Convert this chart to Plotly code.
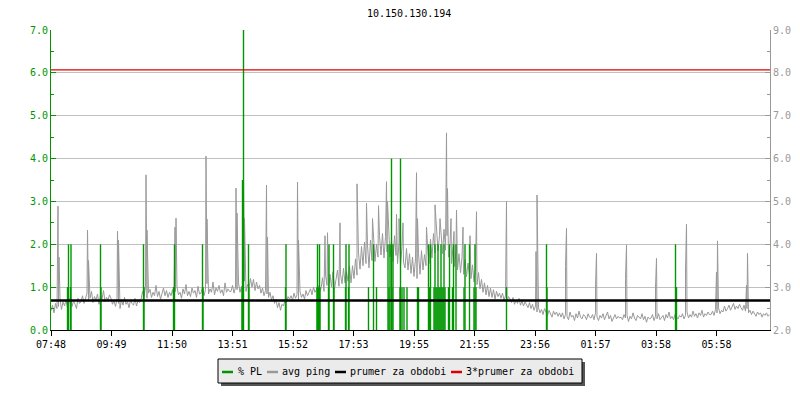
import pandas as pd
import plotly.graph_objects as go

# --- data -----------------------------------------------------------------
start = pd.Timestamp("2024-05-14 07:48")
span_min = 1438

# avg ping [ms], one reading every 3 minutes
ping_step = 3
ping_ms = [
    2.45, 2.58, 2.4, 2.62, 2.5, 2.55, 2.72, 2.48, 2.66, 2.56, 2.7, 2.52, 2.64, 2.78, 2.55, 2.68, 2.6, 2.5, 2.74, 2.62,
    2.66, 2.8, 2.62, 2.76, 2.86, 2.68, 2.74, 2.9, 2.64, 2.78, 2.7, 2.84, 2.6, 2.8, 2.72, 2.92, 2.66, 2.76, 2.7, 2.82,
    2.74, 2.6, 2.68, 2.55, 2.72, 2.62, 2.5, 2.7, 2.58, 2.76, 2.6, 2.66, 2.52, 2.7, 2.62, 2.58, 2.74, 2.56, 2.68, 2.64,
    2.7, 2.9, 2.78, 3.0, 2.74, 2.86, 2.95, 2.76, 2.88, 2.8, 3.04, 2.78, 2.9, 2.72, 2.84, 2.98, 2.8, 2.92, 2.76, 2.88,
    2.8, 2.94, 2.76, 2.9, 3.0, 2.82, 2.88, 2.74, 2.96, 2.84, 3.06, 2.8, 2.9, 2.78, 2.98, 2.86, 2.92, 2.76, 3.02, 2.84,
    2.86, 3.0, 2.8, 2.94, 3.08, 2.84, 2.96, 2.88, 3.12, 2.82, 2.98, 2.9, 3.04, 2.86, 2.94, 2.8, 3.1, 2.88, 2.96, 2.9,
    2.9, 3.04, 2.86, 3.0, 2.94, 3.1, 2.88, 3.02, 2.96, 3.14, 2.9, 3.06, 2.98, 3.2, 3.0, 3.18, 2.92, 3.12, 2.96, 3.04,
    2.86, 2.98, 2.8, 2.92, 2.84, 2.76, 2.88, 2.7, 2.8, 2.62, 2.72, 2.52, 2.64, 2.46, 2.6, 2.56, 2.7, 2.64, 2.78, 2.72,
    2.8, 2.7, 2.86, 2.74, 2.82, 2.68, 2.9, 2.76, 2.84, 2.72, 2.92, 2.8, 2.88, 2.96, 2.82, 3.0, 2.88, 2.94, 3.04, 2.9,
    2.96, 3.22, 2.9, 3.28, 3.04, 2.92, 3.3, 3.0, 3.36, 2.96, 3.18, 3.4, 3.02, 3.3, 3.08, 3.44, 3.1, 3.36, 3.14, 3.48,
    3.1, 3.5, 3.2, 3.66, 3.28, 3.8, 3.42, 3.95, 3.5, 4.05, 3.55, 3.98, 3.45, 4.1, 3.62, 4.15, 3.6, 4.0, 3.7, 4.2,
    3.75, 4.25, 3.68, 4.18, 3.82, 4.3, 3.7, 4.1, 3.6, 4.2, 3.74, 3.55, 4.05, 3.5, 3.95, 3.58, 3.45, 3.9, 3.4, 3.78,
    3.32, 3.7, 3.25, 3.66, 3.2, 3.78, 3.3, 3.85, 3.4, 3.76, 3.5, 3.98, 3.55, 4.12, 3.68, 4.25, 3.8, 4.3, 3.85, 4.2,
    4.28, 3.78, 4.35, 3.86, 4.2, 3.7, 4.02, 3.55, 3.94, 3.48, 3.84, 3.4, 3.78, 3.34, 3.7, 3.3, 3.64, 3.24, 3.56, 3.28,
    3.2, 3.52, 3.12, 3.44, 3.06, 3.34, 2.96, 3.18, 2.88, 3.1, 2.82, 3.04, 2.78, 2.98, 2.76, 2.94, 2.72, 2.9, 2.78, 2.86,
    2.74, 2.86, 2.7, 2.8, 2.66, 2.78, 2.72, 2.64, 2.76, 2.6, 2.7, 2.62, 2.74, 2.58, 2.68, 2.56, 2.66, 2.6, 2.52, 2.64,
    2.5, 2.6, 2.46, 2.56, 2.42, 2.52, 2.4, 2.48, 2.36, 2.5, 2.42, 2.34, 2.46, 2.38, 2.3, 2.44, 2.36, 2.42, 2.32, 2.4,
    2.3, 2.4, 2.26, 2.36, 2.32, 2.24, 2.42, 2.3, 2.34, 2.22, 2.38, 2.28, 2.44, 2.3, 2.26, 2.36, 2.32, 2.24, 2.38, 2.3,
    2.28, 2.36, 2.24, 2.4, 2.3, 2.22, 2.34, 2.28, 2.38, 2.24, 2.32, 2.42, 2.26, 2.34, 2.2, 2.3, 2.36, 2.26, 2.32, 2.28,
    2.3, 2.24, 2.36, 2.28, 2.34, 2.2, 2.32, 2.26, 2.4, 2.28, 2.22, 2.34, 2.3, 2.26, 2.38, 2.24, 2.32, 2.18, 2.3, 2.26,
    2.28, 2.36, 2.22, 2.32, 2.26, 2.38, 2.24, 2.3, 2.34, 2.22, 2.36, 2.28, 2.42, 2.26, 2.32, 2.24, 2.36, 2.3, 2.26, 2.34,
    2.3, 2.38, 2.26, 2.34, 2.42, 2.28, 2.36, 2.3, 2.44, 2.32, 2.38, 2.28, 2.4, 2.34, 2.46, 2.3, 2.38, 2.34, 2.42, 2.36,
    2.36, 2.44, 2.34, 2.48, 2.4, 2.52, 2.38, 2.46, 2.42, 2.56, 2.44, 2.5, 2.58, 2.46, 2.54, 2.62, 2.48, 2.56, 2.5, 2.6,
    2.52, 2.46, 2.58, 2.44, 2.5, 2.4, 2.46, 2.36, 2.44, 2.38, 2.32, 2.42, 2.36, 2.4, 2.3, 2.38, 2.34, 2.4, 2.32, 2.36,
]

# ping spikes [minute from start, ms]
spike_min = [14, 16, 73, 75, 133, 135, 190, 192, 248, 250, 310, 312, 370, 372,
             385, 387, 431, 433, 493, 495, 548, 553, 578, 612, 614, 631, 643, 655,
             671, 673, 691, 696, 704, 731, 733, 751, 768, 778, 791, 793, 800, 806,
             811, 824, 838, 851, 911, 970, 972, 1029, 1031,
             1089, 1091, 1149, 1151, 1209, 1211, 1269, 1271, 1331, 1333, 1391, 1393]
spike_ms = [4.89, 3.7, 4.33, 3.62, 4.31, 4.1, 5.62, 4.33, 4.4, 4.61, 6.06, 4.59, 5.31, 4.73,
            5.5, 4.6, 5.38, 4.17, 5.45, 4.1, 4.2, 4.27, 4.5, 5.41, 4.4, 4.96, 4.6, 4.9,
            5.46, 5.0, 4.7, 4.6, 4.5, 5.67, 4.6, 4.4, 4.92, 4.6, 6.6, 5.3, 4.6, 4.3,
            4.8, 4.4, 4.2, 4.76, 5.0, 3.83, 5.15, 3.48, 4.37,
            3.0, 3.79, 3.2, 3.98, 3.0, 3.67, 3.4, 4.47, 3.35, 4.08, 3.05, 3.79]

# packet loss [minute from start, %]
pl_min = [33, 35, 39, 40, 99, 100, 185, 186, 245, 247, 303, 304,
          382, 383, 385, 395, 396, 469, 470,
          532, 533, 535, 537, 538, 555, 556, 565, 566, 589, 590, 595, 596,
          635, 645, 651, 674, 676, 678, 681, 682, 684, 698, 699, 702, 706, 712,
          733, 735, 755, 757, 759, 766, 768, 770, 772, 774, 776, 778, 780, 782,
          784, 786, 788, 795, 797, 803, 805, 810, 826, 828, 837, 846, 848, 850,
          911, 991, 992, 1249, 1251]
pl_val = [1, 2, 1, 2, 2, 1, 2, 1, 1, 2, 2, 1,
          1, 3.5, 7.5, 2, 1, 1, 2,
          1, 2, 1, 2, 1, 1, 2, 2, 1, 1, 2, 1, 2,
          1, 2, 1, 2, 1, 2, 4, 1, 2, 1, 4, 1, 1, 1,
          1, 1, 2, 1, 2, 1, 2, 1, 1, 2, 1, 1, 2, 1,
          1, 2, 1, 1, 2, 1, 2, 2, 1, 2, 2, 1, 2, 1,
          1, 2, 1, 2, 1]

avg_ping = 2.69

tick_min = [0, 121, 242, 363, 484, 605, 726, 847, 968, 1089, 1210, 1331]
tick_text = ["07:48", "09:49", "11:50", "13:51", "15:52", "17:53",
             "19:55", "21:55", "23:56", "01:57", "03:58", "05:58"]
left_ticks = [0, 1, 2, 3, 4, 5, 6, 7]
right_ticks = [2, 3, 4, 5, 6, 7, 8, 9]

legend_names = ["% PL", "avg ping", "prumer za obdobi", "3*prumer za obdobi"]
legend_colors = ["#009600", "#999999", "black", "#dd0000"]


def at(m):
    return start + pd.Timedelta(minutes=m)


# merge regular readings with spikes
ping = sorted([(i * ping_step, v) for i, v in enumerate(ping_ms)] + list(zip(spike_min, spike_ms)))
ping_x = [at(m) for m, _ in ping]
ping_y = [v for _, v in ping]

# packet loss drawn as vertical strokes from 0
pl_x, pl_y = [], []
for m, v in zip(pl_min, pl_val):
    pl_x += [at(m), at(m), None]
    pl_y += [0, v, None]

x_end = at(span_min)
FONT = "DejaVu Sans Mono"
GREEN = "#009600"
GREY = "#999999"

# the page body has an 8px margin, so the figure is a bit smaller than the window
OFF = 8
W, H = 800 - OFF, 400 - OFF
# plot area in window pixels
L, R, T, B = 51, 770, 30, 330


def px(x):
    return (x - L) / (R - L)


def py(y):
    return (B - y) / (B - T)


fig = go.Figure()

fig.add_trace(go.Scatter(x=ping_x, y=ping_y, mode="lines", name="avg ping",
                         line=dict(color=GREY, width=1), yaxis="y"))
fig.add_trace(go.Scatter(x=pl_x, y=pl_y, mode="lines", name="% PL",
                         line=dict(color=GREEN, width=1.4), yaxis="y2"))
fig.add_trace(go.Scatter(x=[start, x_end], y=[avg_ping, avg_ping], mode="lines",
                         name="prumer za obdobi", line=dict(color="black", width=2.5),
                         yaxis="y3"))
fig.add_trace(go.Scatter(x=[start, x_end], y=[3 * avg_ping, 3 * avg_ping], mode="lines",
                         name="3*prumer za obdobi", line=dict(color="#dd0000", width=1.2),
                         yaxis="y3"))

fig.update_layout(
    width=W, height=H,
    margin=dict(l=L - OFF, r=W + OFF - R, t=T - OFF, b=H + OFF - B, autoexpand=False),
    paper_bgcolor="white", plot_bgcolor="white",
    font=dict(family=FONT, size=10, color="black"),
    showlegend=False,
    xaxis=dict(type="date", range=[start, x_end], tickmode="array",
               tickvals=[at(m) for m in tick_min], ticktext=tick_text,
               ticks="outside", ticklen=5, tickcolor="black",
               showline=True, linecolor="black", linewidth=1,
               showgrid=False, zeroline=False, tickfont=dict(color="black", size=10)),
    # ping axis (right) carries the horizontal grid
    yaxis=dict(side="right", range=[2, 9], tickmode="array", tickvals=right_ticks,
               ticktext=[f"{t:.1f}" for t in right_ticks],
               ticks="inside", ticklen=5, tickcolor=GREY,
               minor=dict(dtick=0.5, ticks="inside", ticklen=3, tickcolor=GREY, showgrid=False),
               showline=True, linecolor=GREY, linewidth=1,
               showgrid=True, gridcolor="#c0c0c0", gridwidth=1, zeroline=False,
               tickfont=dict(color=GREY, size=10)),
    # packet loss axis (left)
    yaxis2=dict(overlaying="y", side="left", range=[0, 7], tickmode="array",
                tickvals=left_ticks, ticktext=[f"{t:.1f}" for t in left_ticks],
                ticks="inside", ticklen=5, tickcolor=GREEN,
                minor=dict(dtick=0.5, ticks="inside", ticklen=3, tickcolor=GREEN, showgrid=False),
                showline=True, linecolor=GREEN, linewidth=1,
                showgrid=False, zeroline=False, tickfont=dict(color=GREEN, size=10)),
    yaxis3=dict(overlaying="y", range=[2, 9], visible=False),
)

# title
fig.add_annotation(text="10.150.130.194", xref="paper", yref="paper", x=px(409), y=py(13),
                   xanchor="center", yanchor="middle", showarrow=False,
                   font=dict(family=FONT, size=10, color="black"))

# legend box with drop shadow, drawn below the plot like the original
fig.add_shape(type="rect", xref="paper", yref="paper",
              x0=px(221), x1=px(585), y0=py(386), y1=py(362),
              fillcolor="#555555", line=dict(width=0))
fig.add_shape(type="rect", xref="paper", yref="paper",
              x0=px(218), x1=px(582), y0=py(383), y1=py(359),
              fillcolor="#ebebeb", line=dict(color="black", width=1))
sym_x = [222, 267, 335, 451]
txt_x = [236, 280, 348, 464]
for name, color, sx, tx in zip(legend_names, legend_colors, sym_x, txt_x):
    fig.add_shape(type="line", xref="paper", yref="paper",
                  x0=px(sx), x1=px(sx + 11), y0=py(372), y1=py(372),
                  line=dict(color=color, width=2.5))
    fig.add_annotation(text=name, xref="paper", yref="paper", x=px(tx), y=py(371),
                       xanchor="left", yanchor="middle", showarrow=False,
                       font=dict(family=FONT, size=10, color="black"))

fig.write_html("out.html")
